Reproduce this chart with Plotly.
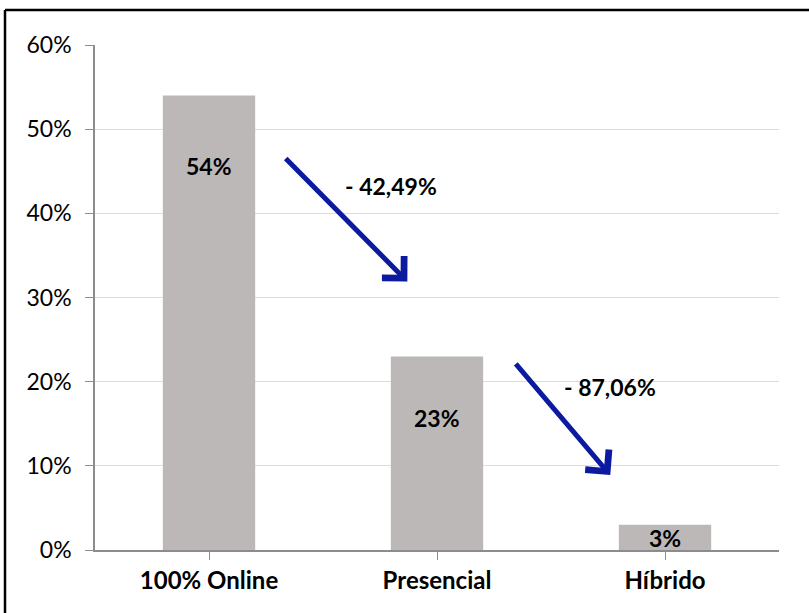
import plotly.graph_objects as go

categories = ["100% Online", "Presencial", "Híbrido"]
values = [54, 23, 3]
value_labels = ["54%", "23%", "3%"]
label_y = [45.6, 15.7, 1.4]

change_labels = ["- 42,49%", "- 87,06%"]
change_label_pos = [(0.80, 43.2), (1.76, 19.4)]
arrows = [((0.33, 46.7), (0.87, 31.9)), ((1.34, 22.3), (1.76, 8.9))]

tick_vals = [0, 10, 20, 30, 40, 50, 60]
tick_text = ["0%", "10%", "20%", "30%", "40%", "50%", "60%"]

FONT = "Lato"
W, H = 809, 613
ml, mr, mt, mb = 95, 30, 45, 63

fig = go.Figure()
fig.add_trace(go.Bar(
    x=list(range(len(categories))), y=values,
    marker=dict(color="#bcb8b8", line=dict(width=0)),
    width=0.405, hoverinfo="skip",
))

ann = []
for i, (t, y) in enumerate(zip(value_labels, label_y)):
    ann.append(dict(x=i, y=y, xref="x", yref="y", text=f"<b>{t}</b>", showarrow=False,
                    font=dict(family=FONT, size=23, color="black")))
for t, (x, y) in zip(change_labels, change_label_pos):
    ann.append(dict(x=x, y=y, xref="x", yref="y", text=f"<b>{t}</b>", showarrow=False,
                    font=dict(family=FONT, size=23, color="black")))
for (s, e) in arrows:
    ann.append(dict(x=e[0], y=e[1], ax=s[0], ay=s[1], xref="x", yref="y", axref="x", ayref="y",
                    text="", showarrow=True, arrowhead=4, arrowsize=1.2, arrowwidth=5,
                    arrowcolor="#0b1a9e", standoff=0, startstandoff=0))

pw, ph = W - ml - mr, H - mt - mb
fx = (5 - ml) / pw
fy_top = 1 + (mt - 10) / ph
fy_bot = -(mb + 5) / ph
shapes = [
    dict(type="line", xref="paper", yref="paper", x0=fx, x1=(W + 5 - ml) / pw, y0=fy_top, y1=fy_top,
         line=dict(color="black", width=2.5)),
    dict(type="line", xref="paper", yref="paper", x0=fx, x1=fx, y0=fy_bot, y1=fy_top,
         line=dict(color="black", width=2.5)),
]

fig.update_layout(
    width=W, height=H, margin=dict(l=ml, r=mr, t=mt, b=mb),
    paper_bgcolor="white", plot_bgcolor="white", showlegend=False,
    annotations=ann, shapes=shapes,
    xaxis=dict(range=[-0.5, 2.5], tickvals=list(range(len(categories))),
               ticktext=[f"<b>{c}</b>" for c in categories],
               tickfont=dict(family=FONT, size=24, color="black"),
               showline=True, linecolor="#8c8c8c", linewidth=1.5,
               ticks="outside", tickson="boundaries", ticklen=8, tickcolor="#8c8c8c",
               showgrid=False, zeroline=False, fixedrange=True),
    yaxis=dict(range=[0, 60], tickvals=tick_vals, ticktext=tick_text,
               tickfont=dict(family=FONT, size=23, color="black"),
               showline=True, linecolor="#8c8c8c", linewidth=1.5,
               ticks="outside", ticklen=8, tickcolor="#8c8c8c", ticklabelstandoff=9,
               showgrid=True, gridcolor="#dcdcdc", gridwidth=1.2, zeroline=False, fixedrange=True),
)

fig.write_html("out.html", config={"displayModeBar": False},
               post_script="document.body.style.margin='0';document.body.style.overflow='hidden';")
